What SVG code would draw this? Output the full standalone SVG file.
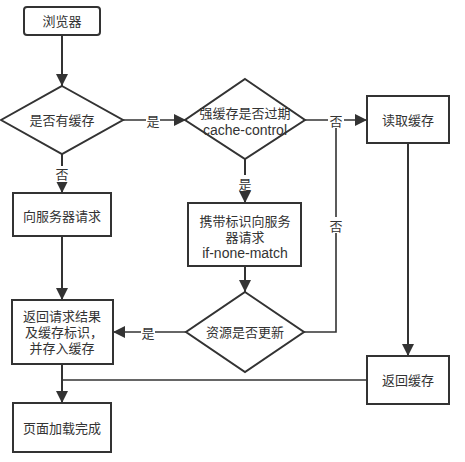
<svg xmlns="http://www.w3.org/2000/svg" width="465" height="462" viewBox="0 0 465 462">
<defs>
<style>
.n{fill:#fff;stroke:#333;stroke-width:2}
.t{font-family:"Liberation Sans","Noto Sans CJK SC",sans-serif;font-size:13px;fill:#333;text-anchor:middle;dominant-baseline:central}
.lat{font-size:14px}
.c{fill:none;stroke:#333;stroke-width:2}
.c2{fill:none;stroke:#333;stroke-width:1.6}
.lb{font-family:"Noto Sans CJK SC",sans-serif;font-size:13px;fill:#333;text-anchor:middle;dominant-baseline:central}
.bg{fill:#fff}
</style>
<marker id="a" markerUnits="userSpaceOnUse" markerWidth="12" markerHeight="16" viewBox="0 0 12 16" refX="12" refY="6" orient="auto">
<path d="M0,0 L12,6 L0,12 Z" fill="#333"/>
</marker>
</defs>
<rect width="465" height="462" fill="#fff"/>
<g id="connectors">
<path class="c" d="M62,35 V86" marker-end="url(#a)"/>
<path class="c2" d="M123,120 H186" marker-end="url(#a)"/>
<rect class="bg" x="146" y="112" width="14" height="16"/>
<text class="lb" x="153" y="120">是</text>
<path class="c" d="M62,154 V193" marker-end="url(#a)"/>
<rect class="bg" x="55" y="166" width="14" height="16"/>
<text class="lb" x="62" y="173">否</text>
<path class="c2" d="M305,120 H367" marker-end="url(#a)"/>
<path class="c2" d="M304,332 H336 V120"/>
<rect class="bg" x="328" y="112" width="16" height="16"/>
<text class="lb" x="336" y="120">否</text>
<rect class="bg" x="329" y="217" width="14" height="16"/>
<text class="lb" x="336" y="225">否</text>
<path class="c" d="M245,159 V203" marker-end="url(#a)"/>
<rect class="bg" x="238" y="175" width="14" height="16"/>
<text class="lb" x="245" y="183">是</text>
<path class="c" d="M245,266 V292" marker-end="url(#a)"/>
<path class="c2" d="M186,332 H113" marker-end="url(#a)"/>
<rect class="bg" x="141" y="324" width="14" height="16"/>
<text class="lb" x="148" y="332">是</text>
<path class="c" d="M62,236 V300" marker-end="url(#a)"/>
<path class="c" d="M408,143 V356" marker-end="url(#a)"/>
<path class="c" d="M62,364 V403" marker-end="url(#a)"/>
<path class="c2" d="M367,380 H62"/>
</g>
<g id="browser">
<rect class="n" x="24" y="7" width="76" height="28" rx="3"/>
<text class="t" x="62" y="21">浏览器</text>
</g>
<g id="has-cache">
<polygon class="n" points="62,86 123,120 62,154 1,120"/>
<text class="t" x="62" y="120">是否有缓存</text>
</g>
<g id="strong-cache">
<polygon class="n" points="245,79 305,120 245,159 185,120"/>
<text class="t" x="245" y="113">强缓存是否过期</text>
<text class="t lat" x="245" y="130">cache-control</text>
</g>
<g id="read-cache">
<rect class="n" x="367" y="96" width="82" height="47"/>
<text class="t" x="408" y="120">读取缓存</text>
</g>
<g id="request-server">
<rect class="n" x="13" y="193" width="98" height="43"/>
<text class="t" x="62" y="216">向服务器请求</text>
</g>
<g id="request-with-tag">
<rect class="n" x="188" y="203" width="113" height="63"/>
<text class="t" x="245" y="221">携带标识向服务</text>
<text class="t" x="245" y="237">器请求</text>
<text class="t lat" x="245" y="253">if-none-match</text>
</g>
<g id="resource-updated">
<polygon class="n" points="245,292 304,332 245,372 186,332"/>
<text class="t" x="245" y="332">资源是否更新</text>
</g>
<g id="return-result">
<rect class="n" x="12" y="300" width="101" height="64"/>
<text class="t" x="62" y="316">返回请求结果</text>
<text class="t" x="64" y="332">及缓存标识，</text>
<text class="t" x="62" y="348">并存入缓存</text>
</g>
<g id="return-cache">
<rect class="n" x="367" y="356" width="82" height="48"/>
<text class="t" x="408" y="380">返回缓存</text>
</g>
<g id="page-loaded">
<rect class="n" x="13" y="403" width="98" height="49"/>
<text class="t" x="62" y="428">页面加载完成</text>
</g>
</svg>
